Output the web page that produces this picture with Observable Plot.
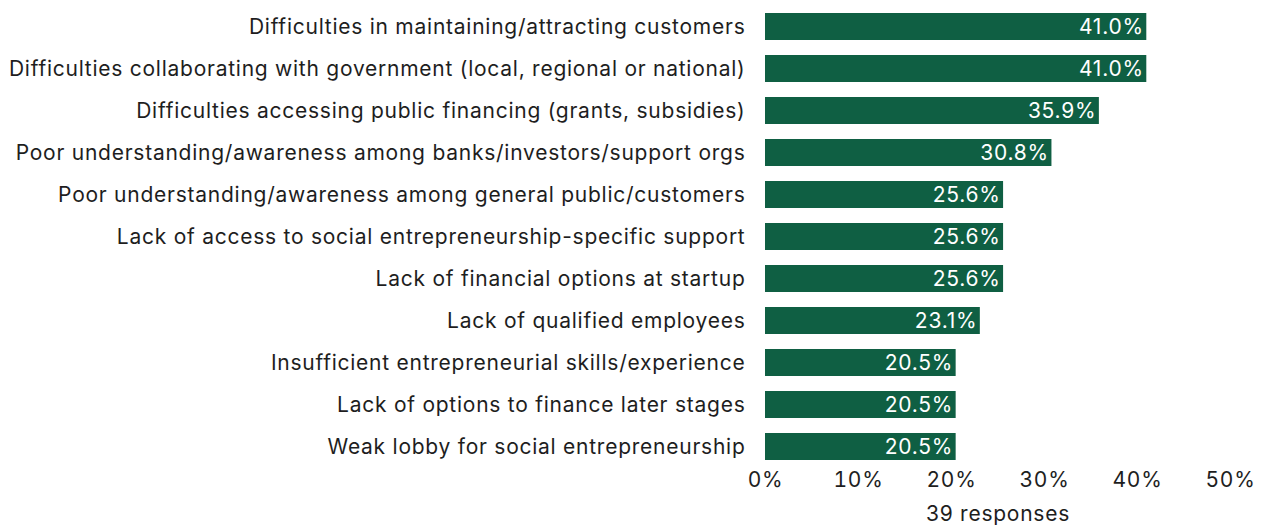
<!DOCTYPE html>
<html>
<head>
<meta charset="utf-8">
<script src="https://cdn.jsdelivr.net/npm/d3@7"></script>
<script src="https://cdn.jsdelivr.net/npm/@observablehq/plot@0.6"></script>
<style>
  html, body { margin: 0; padding: 0; background: #fff; }
  #chart svg { display: block; }
</style>
</head>
<body>
<div id="chart"></div>
<script>
const categories = [
  "Difficulties in maintaining/attracting customers",
  "Difficulties collaborating with government (local, regional or national)",
  "Difficulties accessing public financing (grants, subsidies)",
  "Poor understanding/awareness among banks/investors/support orgs",
  "Poor understanding/awareness among general public/customers",
  "Lack of access to social entrepreneurship-specific support",
  "Lack of financial options at startup",
  "Lack of qualified employees",
  "Insufficient entrepreneurial skills/experience",
  "Lack of options to finance later stages",
  "Weak lobby for social entrepreneurship"
];
const values = [41.0, 41.0, 35.9, 30.8, 25.6, 25.6, 25.6, 23.1, 20.5, 20.5, 20.5];
const xTicks = [0, 10, 20, 30, 40, 50];
const caption = "39 responses";

const data = categories.map((c, i) => ({category: c, value: values[i]}));

const chart = Plot.plot({
  width: 1270,
  height: 528,
  marginLeft: 765,
  marginRight: 40,
  marginTop: 8,
  marginBottom: 63,
  style: {fontFamily: "Inter, sans-serif", fontSize: "21px", letterSpacing: "0.75px", color: "#1e1e1e", background: "#fff"},
  x: {domain: [0, 50]},
  y: {domain: categories, paddingInner: 0.35, paddingOuter: 0.1},
  marks: [
    Plot.barX(data, {x: "value", y: "category", fill: "#0f5f43"}),
    Plot.text(data, {x: "value", y: "category", text: d => d.value.toFixed(1) + "%", textAnchor: "end", dx: -3, fill: "#fff", fontSize: 21, letterSpacing: "0.3px"}),
    Plot.axisY({tickSize: 0, tickPadding: 20, label: null, fontSize: 21}),
    Plot.axisX({ticks: xTicks, tickFormat: d => d + "%", tickSize: 0, tickPadding: 7, fontSize: 21,
      label: caption, labelAnchor: "center", labelArrow: "none", labelOffset: 55})
  ]
});
document.getElementById("chart").appendChild(chart);
</script>
</body>
</html>
